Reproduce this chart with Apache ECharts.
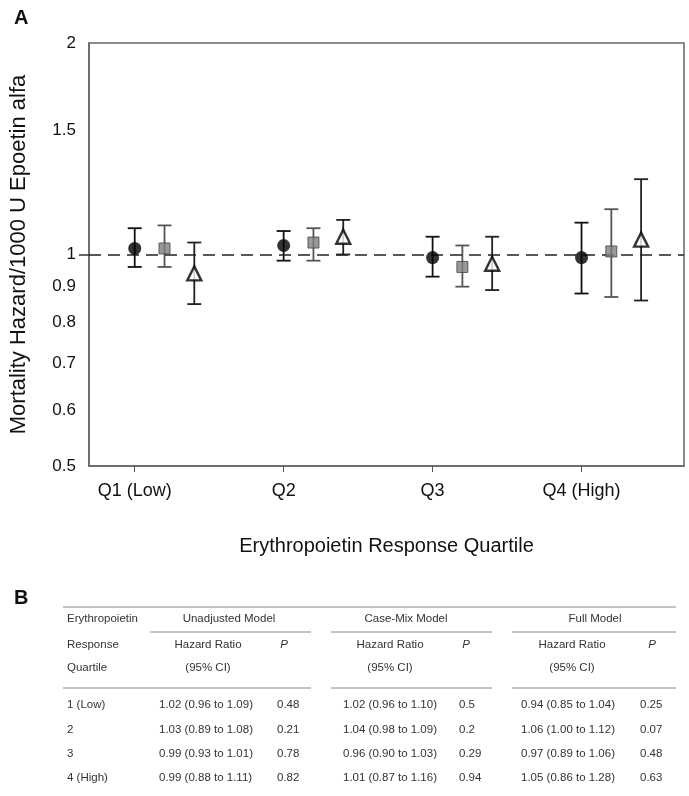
<!DOCTYPE html>
<html>
<head>
<meta charset="utf-8">
<script src="https://cdn.jsdelivr.net/npm/echarts@6/dist/echarts.min.js"></script>
<style>
  html, body { margin: 0; padding: 0; background: #fff; }
  #chart { width: 689px; height: 796px; }
</style>
</head>
<body>
<div id="chart"></div>
<script>
// quartiles on the x axis
const quartiles = ['Q1 (Low)', 'Q2', 'Q3', 'Q4 (High)'];
const yTicks = [0.5, 0.6, 0.7, 0.8, 0.9, 1, 1.5, 2];

// plotted hazard ratios and 95% CI
const unadjHR = [1.02, 1.03, 0.99, 0.99];
const unadjLo = [0.96, 0.98, 0.93, 0.88];
const unadjHi = [1.09, 1.08, 1.06, 1.11];

const caseMixHR = [1.02, 1.04, 0.96, 1.01];
const caseMixLo = [0.96, 0.98, 0.90, 0.87];
const caseMixHi = [1.10, 1.09, 1.03, 1.16];

const fullHR = [0.94, 1.06, 0.97, 1.05];
const fullLo = [0.85, 1.00, 0.89, 0.86];
const fullHi = [1.04, 1.12, 1.06, 1.28];

// table (panel B)
const tableRowLabels = ['1 (Low)', '2', '3', '4 (High)'];
const unadjText = ['1.02 (0.96 to 1.09)', '1.03 (0.89 to 1.08)', '0.99 (0.93 to 1.01)', '0.99 (0.88 to 1.11)'];
const unadjP = ['0.48', '0.21', '0.78', '0.82'];
const caseMixText = ['1.02 (0.96 to 1.10)', '1.04 (0.98 to 1.09)', '0.96 (0.90 to 1.03)', '1.01 (0.87 to 1.16)'];
const caseMixP = ['0.5', '0.2', '0.29', '0.94'];
const fullText = ['0.94 (0.85 to 1.04)', '1.06 (1.00 to 1.12)', '0.97 (0.89 to 1.06)', '1.05 (0.86 to 1.28)'];
const fullP = ['0.25', '0.07', '0.48', '0.63'];
const modelNames = ['Unadjusted Model', 'Case-Mix Model', 'Full Model'];

const FONT = 'Liberation Sans, Arial, sans-serif';
const chart = echarts.init(document.getElementById('chart'), null, { renderer: 'canvas' });

function errorBars(color) {
  return function (params, api) {
    const x = api.value(0);
    const lo = api.coord([x, api.value(1)]);
    const hi = api.coord([x, api.value(2)]);
    const w = 7;
    const st = { stroke: color, lineWidth: 1.8 };
    return {
      type: 'group',
      children: [
        { type: 'line', shape: { x1: lo[0], y1: lo[1], x2: hi[0], y2: hi[1] }, style: st },
        { type: 'line', shape: { x1: lo[0] - w, y1: lo[1], x2: lo[0] + w, y2: lo[1] }, style: st },
        { type: 'line', shape: { x1: hi[0] - w, y1: hi[1], x2: hi[0] + w, y2: hi[1] }, style: st }
      ]
    };
  };
}

function barSeries(lo, hi, offset, color) {
  return {
    type: 'custom',
    renderItem: errorBars(color),
    encode: { x: 0, y: [1, 2] },
    data: lo.map((v, i) => [i + 1 + offset, v, hi[i]]),
    z: 2,
    silent: true
  };
}

function pointSeries(hr, offset, symbol, size, style) {
  return {
    type: 'scatter',
    symbol: symbol,
    symbolSize: size,
    itemStyle: style,
    data: hr.map((v, i) => [i + 1 + offset, v]),
    z: 5
  };
}

// table built with graphic text
const tGraphic = [];
const txt = (x, y, s, align, extra) => tGraphic.push({
  type: 'text', x: x, y: y,
  style: Object.assign({ text: s, font: '11.5px ' + FONT, fill: '#333', align: align || 'left', verticalAlign: 'middle' }, extra || {})
});
const hline = (x1, x2, y) => tGraphic.push({
  type: 'line', shape: { x1: x1, y1: y, x2: x2, y2: y }, style: { stroke: '#888', lineWidth: 1 }
});

const groupSpans = [[150, 311], [331, 492], [512, 676]];
const groupCenters = [229, 406, 595];
const hrCenters = [208, 390, 572];
const pX = [284, 466, 652];
const hrLeft = [159, 343, 521];
const pLeft = [277, 459, 640];
const rowY = [705, 730, 754, 778];

hline(63, 676, 607);
groupSpans.forEach(s => hline(s[0], s[1], 632));
hline(63, 311, 688); hline(331, 492, 688); hline(512, 676, 688);
txt(67, 619, 'Erythropoietin');
txt(67, 645, 'Response');
txt(67, 668, 'Quartile');
modelNames.forEach((m, k) => {
  txt(groupCenters[k], 619, m, 'center');
  txt(hrCenters[k], 645, 'Hazard Ratio', 'center');
  txt(pX[k], 645, 'P', 'center', { font: 'italic 11.5px ' + FONT });
  txt(hrCenters[k], 668, '(95% CI)', 'center');
});
const cols = [[unadjText, unadjP], [caseMixText, caseMixP], [fullText, fullP]];
tableRowLabels.forEach((lab, i) => {
  txt(67, rowY[i], lab);
  cols.forEach((c, k) => {
    txt(hrLeft[k], rowY[i], c[0][i]);
    txt(pLeft[k], rowY[i], c[1][i]);
  });
});

const option = {
  animation: false,
  backgroundColor: '#fff',
  textStyle: { fontFamily: FONT },
  grid: { left: 86, top: 43, right: 5, bottom: 330, show: true, borderColor: '#666', borderWidth: 1.5 },
  xAxis: {
    type: 'value',
    min: 0.693,
    max: 4.688,
    name: 'Erythropoietin Response Quartile',
    nameLocation: 'middle',
    nameGap: 70,
    nameTextStyle: { fontSize: 20, color: '#111', fontFamily: FONT },
    axisLine: { show: true, lineStyle: { color: '#666', width: 1.5 } },
    axisTick: { show: true, customValues: [1, 2, 3, 4], length: 6, lineStyle: { color: '#555' } },
    axisLabel: {
      customValues: [1, 2, 3, 4],
      formatter: v => quartiles[Math.round(v) - 1],
      fontSize: 18, color: '#111', margin: 16, fontFamily: FONT
    },
    splitLine: { show: false }
  },
  yAxis: {
    type: 'log',
    logBase: 10,
    min: 0.5,
    max: 2,
    name: 'Mortality Hazard/1000 U Epoetin alfa',
    nameLocation: 'middle',
    nameGap: 59,
    nameTextStyle: { fontSize: 22, color: '#111', fontFamily: FONT },
    axisLine: { show: true, lineStyle: { color: '#666', width: 1.5 } },
    axisTick: { show: true, customValues: [1], length: 10, lineStyle: { color: '#333', width: 1.5 } },
    axisLabel: {
      customValues: yTicks,
      formatter: v => String(+(+v).toFixed(2)),
      fontSize: 17, color: '#111', margin: 13, fontFamily: FONT
    },
    splitLine: { show: false }
  },
  graphic: [
    { type: 'text', x: 14, y: 8, style: { text: 'A', font: 'bold 20px ' + FONT, fill: '#111' } },
    { type: 'text', x: 14, y: 588, style: { text: 'B', font: 'bold 20px ' + FONT, fill: '#111' } }
  ].concat(tGraphic),
  series: [
    barSeries(unadjLo, unadjHi, 0, '#111'),
    barSeries(caseMixLo, caseMixHi, 0.2, '#555'),
    barSeries(fullLo, fullHi, 0.4, '#222'),
    Object.assign(pointSeries(unadjHR, 0, 'circle', 13, { color: '#000' }), {
      markLine: {
        silent: true,
        symbol: 'none',
        label: { show: false },
        lineStyle: { color: '#222', type: [12, 7], width: 1.6 },
        data: [{ yAxis: 1 }]
      }
    }),
    pointSeries(caseMixHR, 0.2, 'rect', 11, { color: '#808080', borderColor: '#444', borderWidth: 1 }),
    pointSeries(fullHR, 0.4, 'triangle', 14, { color: '#fff', borderColor: '#000', borderWidth: 2.4 })
  ]
};
chart.setOption(option);
</script>
</body>
</html>
